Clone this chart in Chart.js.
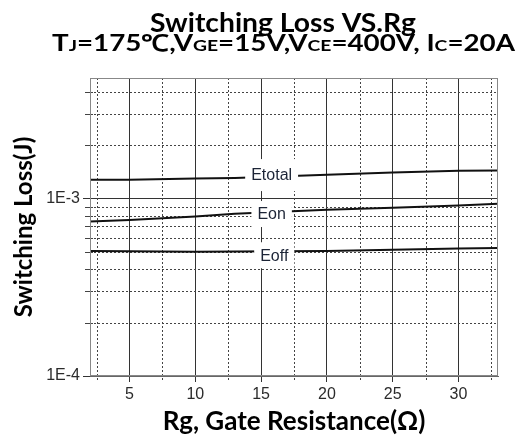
<!DOCTYPE html>
<html><head><meta charset="utf-8">
<script src="https://cdn.jsdelivr.net/npm/chart.js@4.4.0/dist/chart.umd.min.js"></script>
<style>html,body{margin:0;padding:0;background:#fff;}#wrap{position:relative;width:521px;height:439px;}</style>
</head><body><div id="wrap"><canvas id="c" width="521" height="439"></canvas></div>
<script>
// ---- data ----
const rgValues = [2, 5, 10, 13, 20, 25, 30, 33];
const eTotal = [1.28e-3, 1.28e-3, 1.30e-3, 1.31e-3, 1.365e-3, 1.405e-3, 1.44e-3, 1.445e-3];
const eOn = [7.45e-4, 7.6e-4, 7.95e-4, 8.23e-4, 8.68e-4, 8.9e-4, 9.16e-4, 9.37e-4];
const eOff = [5.07e-4, 5.05e-4, 5.03e-4, 5.04e-4, 5.07e-4, 5.16e-4, 5.24e-4, 5.27e-4];
const seriesNames = ['Etotal', 'Eon', 'Eoff'];
const labelRg = [15.8, 15.8, 16.0];
const labelLoss = [1.36e-3, 8.2e-4, 4.8e-4];
const xMajorTicks = [5, 10, 15, 20, 25, 30];
const xMinorTicks = [2.5, 7.5, 12.5, 17.5, 22.5, 27.5, 32.5];
const yMajorTicks = [1e-4, 1e-3];
const yTickLabels = ['1E-4', '1E-3'];
const yMinorTicks = [2e-4, 3e-4, 4e-4, 5e-4, 6e-4, 7e-4, 8e-4, 9e-4, 2e-3, 3e-3, 4e-3];
const xRange = [2, 33];
const yRange = [1e-4, 4.8e-3];
const titleLine1 = 'Switching Loss VS.Rg';
const titleLine2 = [['T', 0], ['J', 1], ['=175\u2103,V', 0], ['GE', 1], ['=15V,V', 0], ['CE', 1], ['=400V, I', 0], ['C', 1], ['=20A', 0]];
const yTitle = 'Switching Loss(J)';
const xTitle = 'Rg, Gate Resistance(\u03A9)';

// ---- chart ----
const series = [eTotal, eOn, eOff];
const pts = arr => rgValues.map((x, i) => ({x: x, y: arr[i]}));

const decorPlugin = {
  id: 'decor',
  beforeDatasetsDraw(chart) {
    const {ctx, chartArea: a, scales: {x, y}} = chart;
    ctx.save();
    ctx.strokeStyle = '#444';
    ctx.lineWidth = 1;
    ctx.setLineDash([2, 2]);
    xMinorTicks.forEach(v => {
      const px = Math.round(x.getPixelForValue(v)) + 0.5;
      ctx.beginPath(); ctx.moveTo(px, a.top); ctx.lineTo(px, a.bottom + 5); ctx.stroke();
    });
    yMinorTicks.forEach(v => {
      const py = Math.round(y.getPixelForValue(v)) + 0.5;
      ctx.beginPath(); ctx.moveTo(a.left, py); ctx.lineTo(a.right, py); ctx.stroke();
    });
    ctx.setLineDash([]);
    yMinorTicks.forEach(v => {
      const py = Math.round(y.getPixelForValue(v)) + 0.5;
      ctx.beginPath(); ctx.moveTo(a.left - 5, py); ctx.lineTo(a.left + 3, py); ctx.stroke();
    });
    ctx.restore();
  },
  afterDatasetsDraw(chart) {
    const {ctx, chartArea: a, scales: {x, y}} = chart;
    ctx.save();
    ctx.strokeStyle = '#888';
    ctx.lineWidth = 1;
    ctx.strokeRect(a.left + 0.5, a.top + 0.5, a.right - a.left - 1, a.bottom - a.top - 1);
    ctx.font = '16px "Liberation Sans", Arial, sans-serif';
    ctx.textAlign = 'center';
    ctx.textBaseline = 'middle';
    seriesNames.forEach((n, i) => {
      const cx = x.getPixelForValue(labelRg[i]);
      const cy = y.getPixelForValue(labelLoss[i]);
      const w = ctx.measureText(n).width + 12;
      const h = i === 0 ? 32 : 26;
      ctx.fillStyle = '#fff';
      ctx.fillRect(cx - w / 2, cy - h / 2, w, h);
      ctx.fillStyle = '#1c2436';
      ctx.fillText(n, cx, cy + 1);
    });
    ctx.restore();
  },
  afterDraw(chart) {
    const ctx = chart.ctx;
    ctx.save();
    ctx.fillStyle = '#000';
    ctx.textBaseline = 'alphabetic';
    ctx.textAlign = 'left';
    // line 1
    ctx.font = 'bold 26px Lato, sans-serif';
    const w1 = ctx.measureText(titleLine1).width;
    const s1 = 266 / w1;
    ctx.setTransform(s1, 0, 0, 1, 283 - 133, 0);
    ctx.fillText(titleLine1, 0, 32);
    // line 2
    const fonts = ['bold 23px Lato, sans-serif', 'bold 16px Lato, sans-serif'];
    let tot = 0;
    titleLine2.forEach(([t, s]) => { ctx.font = fonts[s]; tot += ctx.measureText(t).width; });
    const s2 = 463 / tot;
    ctx.setTransform(s2, 0, 0, 1, 283.5 - 231.5, 0);
    let cx = 0;
    titleLine2.forEach(([t, s]) => { ctx.font = fonts[s]; ctx.fillText(t, cx, 50.5); cx += ctx.measureText(t).width; });
    ctx.restore();
  }
};

new Chart(document.getElementById('c'), {
  type: 'line',
  data: {
    datasets: series.map((arr, i) => ({
      label: seriesNames[i], data: pts(arr), borderColor: '#111', borderWidth: 2,
      pointRadius: 0, tension: 0, fill: false
    }))
  },
  options: {
    responsive: false, animation: false,
    layout: {padding: {top: 78, right: 23, left: 0, bottom: 0}},
    plugins: {legend: {display: false}, tooltip: {enabled: false}, title: {display: false}},
    scales: {
      x: {
        type: 'linear', min: xRange[0], max: xRange[1],
        afterBuildTicks: s => { s.ticks = xMajorTicks.map(v => ({value: v})); },
        afterFit: s => { s.height = 63; },
        ticks: {autoSkip: false, maxRotation: 0, padding: 3, color: '#2b2b2b',
          font: {family: '"Liberation Sans", Arial, sans-serif', size: 16},
          callback: v => String(v)},
        grid: {color: '#333', lineWidth: 1, tickLength: 6, drawTicks: true},
        border: {color: '#666', width: 1},
        title: {display: true, text: xTitle, color: '#000',
          font: {family: 'Lato, sans-serif', weight: 'bold', size: 26}, padding: {top: 0, bottom: 2}}
      },
      y: {
        type: 'logarithmic', min: yRange[0], max: yRange[1],
        afterBuildTicks: s => { s.ticks = yMajorTicks.map(v => ({value: v})); },
        afterFit: s => { s.width = 90; },
        ticks: {autoSkip: false, padding: 3, color: '#2b2b2b',
          font: {family: '"Liberation Sans", Arial, sans-serif', size: 16},
          callback: v => yTickLabels[yMajorTicks.indexOf(v)]},
        grid: {color: '#333', lineWidth: 1, tickLength: 7, drawTicks: true},
        border: {color: '#666', width: 1},
        title: {display: true, text: yTitle, color: '#000',
          font: {family: 'Lato, sans-serif', weight: 'bold', size: 24}, padding: {top: 10, bottom: 0}}
      }
    }
  },
  plugins: [decorPlugin]
});
</script></body></html>
